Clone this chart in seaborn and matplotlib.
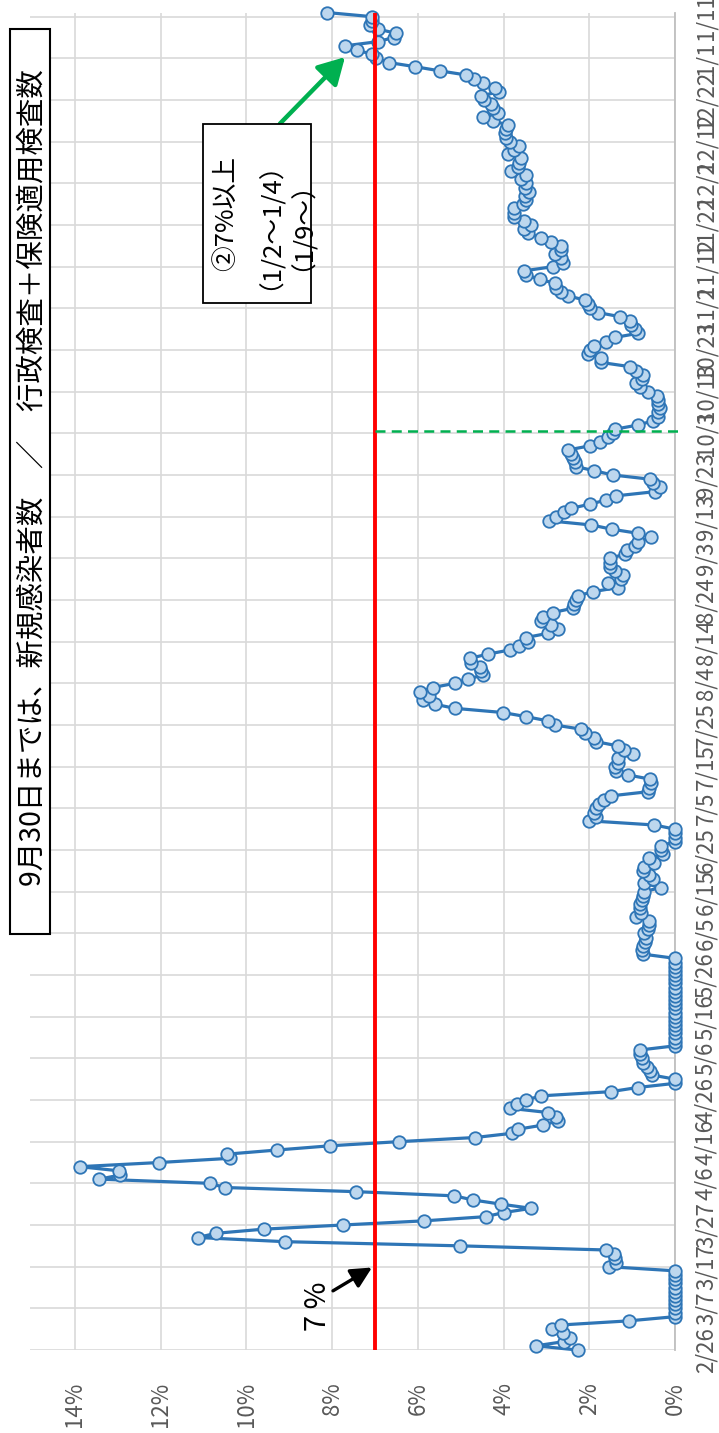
import numpy as np
import matplotlib
matplotlib.use("Agg")
import matplotlib.pyplot as plt
import seaborn as sns
from matplotlib.patches import Rectangle, ArrowStyle

# ---------------- data (daily positivity %, from 2/26) ----------------
pct_feb_mar = [2.27, 3.25, 2.60, 2.45, 2.62, 2.88, 2.67, 1.07,
               0, 0, 0, 0, 0, 0, 0, 0, 0, 0, 0, 0,
               1.55, 1.38, 1.40, 1.42, 1.60, 5.02, 9.11, 11.13, 10.72, 9.60,
               7.75, 5.85, 4.42, 3.99]
pct_apr = [3.35, 4.06, 4.71, 5.15, 7.44, 10.51, 10.85, 13.43, 12.95, 12.97,
           13.89, 12.03, 10.39, 10.46, 9.28, 8.06, 6.45, 4.66, 3.81, 3.66,
           3.07, 2.73, 2.78, 2.97, 3.84, 3.68, 3.48, 3.12, 1.50, 0.87]
pct_may = [0.0, 0.0, 0.54, 0.58, 0.66, 0.74, 0.78, 0.82, 0.82,
           0, 0, 0, 0, 0, 0, 0, 0, 0, 0, 0, 0, 0, 0, 0, 0, 0, 0, 0, 0, 0, 0]
pct_jun = [0.74, 0.78, 0.74, 0.70, 0.68, 0.72, 0.64, 0.60, 0.60, 0.91,
           0.79, 0.81, 0.81, 0.78, 0.75, 0.72, 0.33, 0.72, 0.52, 0.60,
           0.75, 0.72, 0.48, 0.60, 0.29, 0.33, 0.33, 0, 0, 0, 0]
pct_jul = [0.48, 2.00, 1.84, 1.88, 1.84, 1.77, 1.65, 1.49, 0.62, 0.60,
           0.56, 0.58, 1.09, 1.38, 1.41, 1.34, 1.34, 0.99, 1.18, 1.34,
           1.84, 1.88, 2.11, 2.19, 2.81, 2.97, 3.47, 4.02, 5.14, 5.61]
pct_aug = [5.88, 5.73, 5.94, 5.65, 5.14, 4.83, 4.48, 4.52, 4.56, 4.76,
           4.79, 4.37, 3.86, 3.63, 3.43, 3.47, 2.97, 2.74, 2.89, 3.12,
           3.08, 2.85, 2.39, 2.35, 2.30, 2.27, 1.91, 1.33, 1.56, 1.25, 1.21]
pct_sep = [1.41, 1.52, 1.52, 1.52, 1.17, 1.13, 0.94, 0.86, 0.55, 0.86,
           1.48, 1.95, 2.93, 2.77, 2.58, 2.42, 1.99, 1.60, 1.37, 0.47,
           0.35, 0.51, 0.59, 1.45, 1.88, 2.30, 2.34, 2.38, 2.42, 2.50,
           1.99]
pct_oct = [1.76, 1.56, 1.45, 1.40, 0.86, 0.51, 0.39, 0.39, 0.35, 0.40,
           0.39, 0.43, 0.63, 0.82, 0.90, 0.78, 0.74, 0.90, 1.05, 1.72,
           1.72, 2.03, 1.99, 1.88, 1.60, 1.41, 0.86, 0.94, 1.02, 1.05, 1.29]
pct_nov = [1.80, 1.99, 2.03, 2.11, 2.50, 2.66, 2.77, 2.81, 3.16, 3.48,
           3.52, 2.85, 2.62, 2.66, 2.81, 2.66, 2.66, 2.89, 3.13, 3.44,
           3.52, 3.36, 3.52, 3.75, 3.75, 3.75, 3.55, 3.48, 3.50, 3.40]
pct_dec = [3.51, 3.48, 3.59, 3.48, 3.82, 3.67, 3.63, 3.59, 3.90, 3.75,
           3.63, 3.86, 3.94, 3.96, 3.94, 3.90, 4.25, 4.48, 4.13, 4.25,
           4.29, 4.45, 4.52, 4.10, 4.21, 4.48, 4.68, 4.87, 5.49, 6.07, 6.68]
pct_jan = [6.97, 7.08, 7.43, 7.70, 6.94, 6.56, 6.50, 6.93, 7.12, 7.07,
           7.07, 8.13]

pct = (pct_feb_mar + pct_apr + pct_may + pct_jun + pct_jul + pct_aug
       + pct_sep + pct_oct + pct_nov + pct_dec + pct_jan)
day_index = np.arange(len(pct))

date_labels = ["2/26", "3/7", "3/17", "3/27", "4/6", "4/16", "4/26", "5/6",
               "5/16", "5/26", "6/5", "6/15", "6/25", "7/5", "7/15", "7/25",
               "8/4", "8/14", "8/24", "9/3", "9/13", "9/23", "10/3", "10/13",
               "10/23", "11/2", "11/12", "11/22", "12/2", "12/12", "12/22",
               "1/1", "1/11"]
date_tick_pos = np.arange(0, 10 * len(date_labels), 10)
pct_ticks = [0, 2, 4, 6, 8, 10, 12, 14]
pct_labels = ["0%", "2%", "4%", "6%", "8%", "10%", "12%", "14%"]

threshold = 7.0
switch_day = 220.5

title_text = "9月30日までは、新規感染者数　／　行政検査＋保険適用検査数"
note_text = "②7%以上\n（1/2～1/4）\n（1/9～）"
thr_text = "7 %"

# ---------------- figure ----------------
sns.set_style("white")
plt.rcParams["font.family"] = ["Noto Sans CJK JP", "DejaVu Sans"]

W, H = 719, 1433
fig = plt.figure(figsize=(W / 100, H / 100), dpi=100)
fig.patch.set_facecolor("white")

def fx(px):
    return px / W

def fy(py):
    return 1 - py / H

ax = fig.add_axes([fx(30), fy(1350), (675 - 30) / W, (1350 - 12.5) / H])

sns.lineplot(x=pct, y=day_index, sort=False, estimator=None, orient="y",
             ax=ax, color="#2E75B6", linewidth=2.3, marker="o",
             markersize=9.0, markerfacecolor="#BDD7EE",
             markeredgecolor="#2E75B6", markeredgewidth=1.3,
             clip_on=False, zorder=3)

ax.set_xlim(15.05, 0)
ax.set_ylim(0, 321)
ax.set_xticks(pct_ticks)
ax.set_xticklabels(pct_labels, rotation=90)
ax.set_yticks(date_tick_pos)
ax.set_yticklabels(date_labels, rotation=90, va="center")
ax.yaxis.tick_right()
ax.tick_params(axis="both", length=0, colors="#595959", labelsize=16)
ax.tick_params(axis="x", pad=23)
ax.tick_params(axis="y", pad=14)
ax.set_xlabel("")
ax.set_ylabel("")
ax.grid(True, color="#D9D9D9", linewidth=1.2)
ax.set_axisbelow(True)
for s in ["top", "left", "bottom"]:
    ax.spines[s].set_visible(False)
ax.spines["right"].set_color("#BFBFBF")
ax.spines["right"].set_linewidth(1.3)

# threshold line and policy switch line
ax.axvline(threshold, color="#FF0000", linewidth=2.8, zorder=4)
ax.plot([threshold, -0.1], [switch_day, switch_day], color="#00B050",
        linewidth=1.8, linestyle=(0, (4, 2.5)), zorder=4, clip_on=False)

# black arrow with "7 %"
ax.annotate("", xy=(7.07, 19.8), xytext=(7.98, 14.2),
            arrowprops=dict(arrowstyle=ArrowStyle("-|>", head_length=0.7, head_width=0.35),
                            color="black", lw=2.4, mutation_scale=18,
                            shrinkA=0, shrinkB=0), zorder=5)
fig.text(fx(318), fy(1306), thr_text, rotation=90, ha="center", va="center",
         fontsize=21, color="black")

# green arrow to the annotation box
ax.annotate("", xy=(7.70, 310.3), xytext=(9.22, 294.3),
            arrowprops=dict(arrowstyle=ArrowStyle("-|>", head_length=0.8, head_width=0.45),
                            color="#00B050", lw=3.2, mutation_scale=20,
                            shrinkA=0, shrinkB=0), zorder=5)

# annotation box
fig.add_artist(Rectangle((fx(203), fy(303)), (311 - 203) / W, (303 - 124) / H,
                         transform=fig.transFigure, facecolor="white",
                         edgecolor="black", linewidth=1.3, zorder=6))
fig.text(fx(258), fy(213), note_text, rotation=90, ha="center", va="center",
         multialignment="center", fontsize=18.5, linespacing=1.25,
         color="black", zorder=7)

# title box
fig.add_artist(Rectangle((fx(10), fy(934)), 40 / W, (934 - 29) / H,
                         transform=fig.transFigure, facecolor="white",
                         edgecolor="black", linewidth=1.5, zorder=6))
fig.text(fx(33), fy(478), title_text, rotation=90, ha="center", va="center",
         fontsize=20.5, color="black", zorder=7)

fig.savefig("out.png", dpi=100, facecolor="white")
